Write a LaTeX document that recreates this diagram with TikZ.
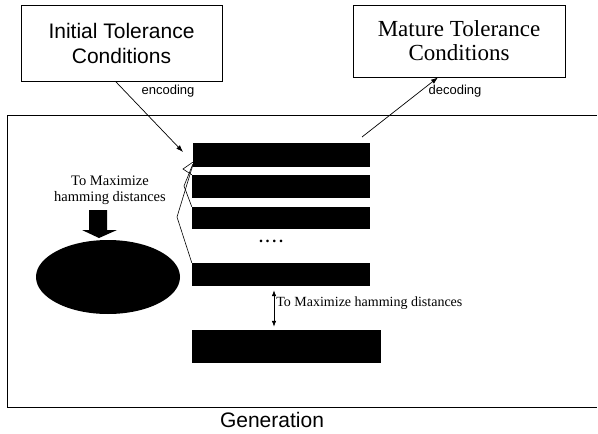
\documentclass[tikz,border=0pt]{standalone}
\usepackage{fontspec}
\setmainfont{Liberation Serif}
\setsansfont{Liberation Sans}
\usetikzlibrary{
	arrows.meta,
	calc,
	positioning,
	shapes.geometric
}
\definecolor{InkBlack}{RGB}{0,0,0}

\begin{document}
\begin{tikzpicture}[x=1pt, y=-1pt,
		condbox/.style={draw=InkBlack, line width=0.8pt, align=center, inner sep=0pt},
		chrom/.style={fill=InkBlack, inner sep=0pt, minimum height=23pt, minimum width=178pt},
		flow/.style={-{Latex[length=7pt,width=5pt]}, line width=0.7pt},
		link/.style={line width=0.6pt}
	]
		\useasboundingbox (0,0) rectangle (598,434);
		
		% condition boxes
		\node[condbox, minimum width=201pt, minimum height=76pt,
			font=\sffamily\fontsize{21}{25}\selectfont] (init) at (121.5,43)
			{Initial Tolerance\\Conditions};
		\node[condbox, minimum width=212pt, minimum height=72pt,
			font=\fontsize{23}{24}\selectfont] (mat) at (459,41)
			{Mature Tolerance\\Conditions};
		
		% generation frame (open on the right)
		\draw[line width=0.8pt] (597,115) -- (7,115) -- (7,407) -- (597,407);
		\node[font=\sffamily\fontsize{21}{24}\selectfont] (gen) at (272,420) {Generation};
		
		% population
		\node[chrom, minimum height=24pt, minimum width=177pt] (bar1) at (281.5,155) {};
		\node[chrom] (bar2) at (281,186.5) {};
		\node[chrom, minimum height=22pt] (bar3) at (281,218) {};
		\node[font=\bfseries\fontsize{16}{16}\selectfont] (dots) at (271,241) {.\,.\,.\,.};
		\node[chrom] (bar4) at (281,274.5) {};
		\node[chrom, minimum height=33pt, minimum width=189pt] (bar5) at (286.5,346.5) {};
		
		% links between chromosomes
		\draw[link] ([yshift=5pt]bar1.south west) -- (183,169) -- (bar2.north west);
		\draw[link] ([yshift=3pt]bar1.south west) -- (184,186) -- (bar3.north west);
		\draw[link] ([yshift=2pt]bar1.south west) -- (177,217) -- (bar4.north west);
		
		% encoding / decoding
		\coordinate (encTip) at (183,152);
		\coordinate (decTail) at (362,137);
		\draw[flow] ([xshift=-6pt]init.south) -- (encTip);
		\draw[flow] (decTail) -- ([xshift=-21pt]mat.south);
		\node[font=\sffamily\fontsize{13}{15}\selectfont] (enc) at (168,91) {encoding};
		\node[font=\sffamily\fontsize{13}{15}\selectfont] (dec) at (455,91) {decoding};
		
		% hamming distance between chromosomes
		\draw[{Latex[length=6pt,width=4.5pt]}-{Latex[length=6pt,width=4.5pt]}, line width=0.7pt,
			shorten <=4pt, shorten >=3pt]
			([xshift=-7pt]bar4.south) -- ([xshift=-12.5pt]bar5.north)
			node[midway, right, yshift=5pt, inner sep=2pt, font=\fontsize{14}{16}\selectfont]
			(hamR) {To Maximize hamming distances};
		
		% selection
		\node[align=center, font=\fontsize{14.5}{16}\selectfont] (hamL) at (110,190)
			{To Maximize\\hamming distances};
		\fill[InkBlack] (89,210) -- (107,210) -- (107,230) -- (117,230) -- (99,238)
			-- (82,230) -- (89,230) -- cycle;
		\node[ellipse, fill=InkBlack, minimum width=144pt, minimum height=74pt,
			inner sep=0pt] (pool) at (108,277) {};
\end{tikzpicture}
\end{document}
